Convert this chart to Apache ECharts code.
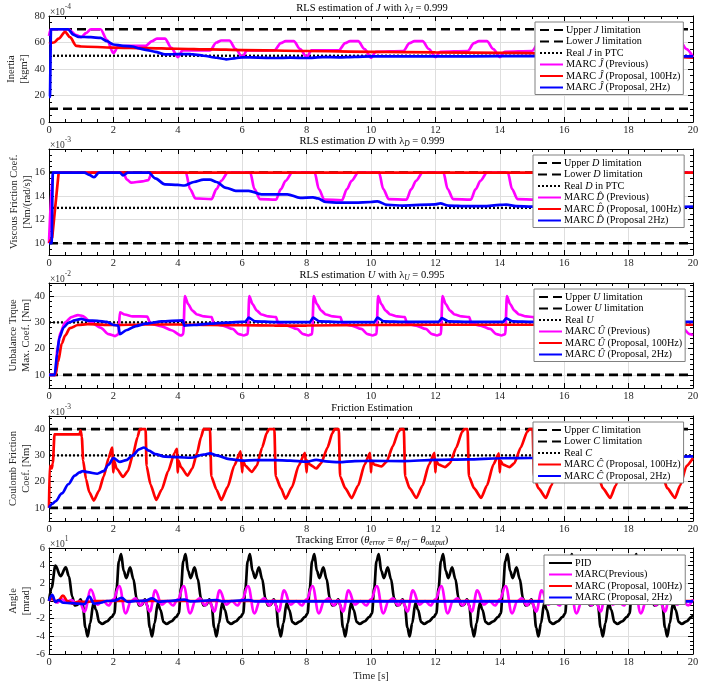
<!DOCTYPE html>
<html><head><meta charset="utf-8">
<script src="https://cdn.jsdelivr.net/npm/echarts@6/dist/echarts.min.js"></script>
<style>html,body{margin:0;padding:0;background:#fff}#c{width:721px;height:681px}</style>
</head><body><div id="c"></div>
<script>
// ---------------- DATA ----------------
const X_RANGE = [0, 20];

// Panel 1: Inertia (x1e-4)
const J_LIMITS = { upper: 70, lower: 10, real: 50 };
const J_PREV = [[0,65],[0.05,70],[0.6,70],[0.85,65.5],[1.0,64],[1.15,67],[1.3,70],[1.6,70],[1.8,62],[2.0,52],[2.15,57],[2.5,57.5],[3.0,57.5],[3.2,61],[3.35,63],[3.6,63],[3.8,56],[4.0,49],[4.15,54],[5.0,54],[5.2,60],[5.35,61.5],[5.6,61.5],[5.8,55],[6.0,49],[6.15,54],[7.0,54],[7.2,59.5],[7.35,61],[7.6,61],[7.8,55],[8.0,49],[8.15,54],[9.0,54],[9.2,59.5],[9.35,61],[9.6,61],[9.8,55],[10.0,48.5],[10.15,53],[11.0,53.5],[11.2,59.5],[11.35,61],[11.6,61],[11.8,55],[12.0,49],[12.15,53],[13.0,53.5],[13.2,59.5],[13.35,61],[13.6,61],[13.8,55],[14.0,49],[14.15,53],[15.0,53.5],[15.2,59.5],[15.35,61],[15.6,61],[15.8,55],[16.0,49],[16.15,53],[17.0,53.5],[17.2,59.5],[17.35,61],[17.6,61],[17.8,55],[18.0,49],[18.15,53],[19.0,53.5],[19.2,59.5],[19.35,61],[19.6,61],[19.8,55],[20.0,49]];
const J_100 = [[0,59],[0.15,60],[0.3,63],[0.5,68],[0.65,64],[0.85,57.5],[1.0,57],[2,56.2],[3,55.8],[4,55.3],[5,54.8],[6,54.3],[8,53.6],[10,53],[12,52.5],[14,52.2],[15,52],[16,51],[18,50],[20,48.5]];
const J_2 = [[0,19],[0.03,19],[0.06,70],[0.6,70],[0.75,66],[0.9,64.3],[1.3,64],[1.6,63.5],[1.8,61],[2.0,58.5],[2.3,57.5],[2.6,57],[2.8,55.5],[3.0,54.5],[3.3,53],[3.6,51],[4.0,51.3],[4.4,51.2],[4.8,50],[5.2,48.5],[5.5,47.3],[5.8,48.2],[6.0,48.8],[6.5,48.6],[7,48.3],[7.5,48.6],[8,48.3],[8.5,49],[9,48.8],[9.5,49.2],[10,49.5],[12,49.5],[14,49.7],[16,49.7],[18,49.6],[20,49.6]];

// Panel 2: Viscous friction (x1e-3)
const D_LIMITS = { upper: 16, lower: 10, real: 13 };
const D_PREV = [[0,10],[0.12,16],[2.3,16],[2.42,15.4],[2.55,15.15],[2.9,15.25],[3.08,15.35],[3.2,16],[4.25,16],[4.38,14.6],[4.55,13.8],[5.05,13.75],[5.2,14.6],[5.35,15.3],[5.55,16],[6.25,16],[6.38,14.6],[6.55,13.75],[7.05,13.7],[7.2,14.6],[7.35,15.3],[7.55,16],[8.25,16],[8.38,14.6],[8.55,13.7],[9.1,13.65],[9.25,14.6],[9.4,15.3],[9.6,16],[10.25,16],[10.38,14.6],[10.55,13.75],[11.1,13.7],[11.25,14.6],[11.4,15.3],[11.6,16],[12.25,16],[12.38,14.6],[12.55,13.75],[13.1,13.7],[13.25,14.6],[13.4,15.3],[13.6,16],[14.25,16],[14.38,14.6],[14.55,13.75],[15.1,13.7],[15.25,14.6],[15.4,15.3],[15.6,16],[16.25,16],[16.38,14.6],[16.55,13.75],[17.1,13.7],[17.25,14.6],[17.4,15.3],[17.6,16],[18.25,16],[18.38,14.6],[18.55,13.75],[19.1,13.7],[19.25,14.6],[19.4,15.3],[19.6,16],[20,16]];
const D_100 = [[0,10],[0.1,10.5],[0.3,16],[20,16]];
const D_2 = [[0,10],[0.08,10],[0.12,16],[1.1,16],[1.25,15.8],[1.4,15.6],[1.55,16],[2.2,16],[2.3,15.75],[2.45,16],[3.1,16],[3.3,15.5],[3.6,15],[4.0,14.95],[4.2,14.9],[4.5,15.2],[4.8,15.4],[5.0,15.4],[5.2,15.2],[5.5,14.7],[5.8,14.45],[6.2,14.45],[6.6,14.15],[7.0,14.15],[7.4,14.15],[7.8,13.85],[8.2,13.9],[8.35,13.8],[8.6,13.5],[9.0,13.45],[9.5,13.45],[10.0,13.5],[10.2,13.55],[10.5,13.25],[11.0,13.2],[12.0,13.3],[12.15,13.38],[12.4,13.2],[13.0,13.15],[13.5,13.15],[14.0,13.25],[14.2,13.28],[14.5,13.15],[15.0,13.1],[16,13.1],[17,13.1],[18,13.05],[19,13.05],[20,13.1]];

// Panel 3: Unbalance torque (x1e-2)
const U_LIMITS = { upper: 50, lower: 10, real: 30 };
const U_PREV = [[0,10],[0.2,10],[0.26,20],[0.35,26],[0.5,30],[0.7,32],[0.9,32.8],[1.05,32.4],[1.3,30],[1.6,28],[1.85,25.5],[2.05,24.8],[2.16,25.5],[2.2,33.8],[2.35,33],[2.6,32.3],[3.05,32.2],[3.15,29.5],[3.5,28.5],[3.8,27],[4.1,25],[4.17,25.5],
[4.22,40],[4.32,37],[4.45,34.5],[4.6,33],[4.82,32.3],[5.05,32],[5.12,29.5],[5.4,28.8],[5.7,27.5],[5.9,25.5],[6.05,25],[6.17,25.5],
[6.22,40],[6.32,37],[6.45,34.5],[6.6,33],[6.82,32.3],[7.05,32],[7.12,29.5],[7.4,28.8],[7.7,27.5],[7.9,25.5],[8.05,25],[8.17,25.5],
[8.22,40],[8.32,37],[8.45,34.5],[8.6,33],[8.82,32.3],[9.05,32],[9.12,29.5],[9.4,28.8],[9.7,27.5],[9.9,25.5],[10.05,25],[10.17,25.5],
[10.22,40],[10.32,37],[10.45,34.5],[10.6,33],[10.82,32.3],[11.05,32],[11.12,29.5],[11.4,28.8],[11.7,27.5],[11.9,25.5],[12.05,25],[12.17,25.5],
[12.22,40],[12.32,37],[12.45,34.5],[12.6,33],[12.82,32.3],[13.05,32],[13.12,29.5],[13.4,28.8],[13.7,27.5],[13.9,25.5],[14.05,25],[14.17,25.5],
[14.22,40],[14.32,37],[14.45,34.5],[14.6,33],[14.82,32.3],[15.05,32],[15.12,29.5],[15.4,28.8],[15.7,27.5],[15.9,25.5],[16.05,25],[16.17,25.5],
[16.22,40],[16.32,37],[16.45,34.5],[16.6,33],[16.82,32.3],[17.05,32],[17.12,29.5],[17.4,28.8],[17.7,27.5],[17.9,25.5],[18.05,25],[18.17,25.5],
[18.22,40],[18.32,37],[18.45,34.5],[18.6,33],[18.82,32.3],[19.05,32],[19.12,29.5],[19.4,28.8],[19.7,27.5],[19.9,25.5],[20,25.2]];
const U_100 = [[0,10],[0.2,10],[0.28,15],[0.4,22],[0.5,25],[0.65,27.8],[0.9,29],[1.2,29.3],[2,29],[3,29.2],[4,29.2],[5,29],[6,28.9],[7,28.8],[8,28.8],[10,29],[12,29.1],[14,29.1],[16,29.1],[18,29.1],[20,29.1]];
const U_2 = [[0,10],[0.18,10],[0.25,18],[0.32,24],[0.45,28],[0.6,29.8],[0.8,30.8],[1.0,31.3],[1.2,30.7],[1.5,30.6],[1.8,30.2],[2.0,29],[2.15,28.8],[2.2,25.5],[2.4,27],[2.7,28.6],[3.0,29.5],[3.5,30.4],[4.15,30.8],[4.2,28.8],[4.5,29],[5.0,29.5],[5.5,29.9],[6.1,30.3],[6.2,31.8],[6.4,30.4],[7.0,30.1],[8.1,30.1],[8.2,31.8],[8.4,30.4],[9,30.1],[10.1,30.1],[10.2,31.8],[10.4,30.4],[11,30.2],[12.1,30.2],[12.2,31.6],[12.4,30.4],[13,30.2],[14.1,30.2],[14.2,31.5],[14.4,30.4],[15,30.2],[16.1,30.2],[16.2,31.5],[16.4,30.4],[17,30.2],[18.1,30.2],[18.2,31.5],[18.4,30.4],[19,30.2],[20,30.2]];

// Panel 4: Coulomb friction (x1e-3)
const C_LIMITS = { upper: 40, lower: 10, real: 30 };
const C_100 = [[0,10],[0.02,26],[0.08,25],[0.12,27],[0.17,38],[0.95,38],[0.98,39.5],[1.02,37],[1.06,28],[1.15,21],[1.25,16],[1.39,12.8],[1.55,16.5],[1.7,22],[1.85,29],[1.96,33],
[2.0,23.5],[2.02,28],[2.1,25],[2.3,21.8],[2.45,24],[2.6,30],[2.75,37],[2.82,40],[3.0,40],[3.03,26],[3.15,19],[3.33,13],[3.5,17],[3.7,24],[3.9,31],[3.97,32.5],
[4.0,23.5],[4.02,28],[4.1,25.5],[4.3,22.3],[4.45,25],[4.6,31],[4.72,37],[4.8,40],[5.0,40],[5.04,22],[5.2,17],[5.35,13],[5.55,18],[5.75,26],[5.95,31.5],
[6.0,23.5],[6.02,28],[6.1,26],[6.3,23.7],[6.45,26],[6.62,33],[6.76,38.5],[6.83,40],[7.0,40],[7.04,22],[7.2,17.5],[7.35,13.5],[7.55,18],[7.75,26],[7.95,31],
[8.0,23.5],[8.02,28],[8.1,26.5],[8.3,25],[8.45,27],[8.65,33],[8.8,38.5],[8.87,40],[9.0,40],[9.04,22],[9.2,17.5],[9.4,13.7],[9.6,18.5],[9.8,26.5],[9.97,31],
[10.0,23.5],[10.02,28],[10.1,26.5],[10.33,25.8],[10.48,27.5],[10.68,33.5],[10.85,39],[10.92,40],[11.02,40],[11.06,22],[11.2,17.5],[11.41,13.8],[11.6,18.5],[11.8,26.5],[11.97,31],
[12.0,23.5],[12.02,28],[12.1,26.5],[12.3,25.5],[12.45,27],[12.65,33],[12.83,39],[12.9,40],[13.0,40],[13.04,22],[13.2,17.5],[13.42,13.8],[13.6,18.5],[13.8,26.5],[13.97,30.8],
[14.0,23.5],[14.02,28],[14.1,26.5],[14.3,25.5],[14.45,27],[14.65,33],[14.85,39],[14.92,40],[15.02,40],[15.06,22],[15.2,17.5],[15.43,13.8],[15.6,18.5],[15.8,26.5],[15.97,31],
[16.0,23.5],[16.02,28],[16.1,26.5],[16.3,25.5],[16.45,27],[16.65,33],[16.85,39],[16.92,40],[17.02,40],[17.06,22],[17.2,17.5],[17.43,13.8],[17.6,18.5],[17.8,26.5],[17.97,31],
[18.0,23.5],[18.02,28],[18.1,26.5],[18.3,25.5],[18.45,27],[18.65,33],[18.85,39],[18.92,40],[19.02,40],[19.06,22],[19.2,17.5],[19.44,13.8],[19.6,18.5],[19.8,26],[20,29]];
const C_2 = [[0,10],[0.1,11.5],[0.2,12.5],[0.4,15.5],[0.6,19],[0.8,22.3],[0.95,23.5],[1.05,24],[1.2,23.6],[1.5,23],[1.7,24],[1.85,26.5],[2.0,29],[2.2,27.5],[2.4,28.2],[2.6,30],[2.8,32.3],[2.95,33],[3.1,31.8],[3.3,30.5],[3.6,29.5],[4.0,29.3],[4.4,29.1],[4.8,30.3],[5.0,30.8],[5.2,30],[5.6,28.6],[6.0,28],[6.4,28.2],[7.0,28.2],[7.5,28],[8.0,27.6],[8.3,28.3],[8.6,27.7],[9.0,27.4],[9.5,27.8],[10,27.9],[11,27.8],[12,28.3],[13,28.5],[14,28.9],[15,29],[16,29.1],[17,29.2],[18,29.3],[19,29.4],[20,29.6]];

// Panel 5: Tracking error (x1e1 mrad)
const PID = [[0,0],[0.08,1.5],[0.2,4],[0.36,2.8],[0.52,3.8],[0.62,2.8],[0.72,0.5],[0.8,-0.5],[0.88,-0.45],[0.98,0.2],[1.05,-0.5],[1.13,-3],[1.2,-4],[1.28,-2.5],[1.38,-0.2],[1.46,-1],[1.56,-2.4],[1.65,-2.6],[1.8,-2.3],[1.95,-1.8],[2.03,-1.4],
[2.1,1.5],[2.17,4.5],[2.24,5.3],[2.32,3.4],[2.4,2.6],[2.52,3.8],[2.62,2.5],[2.72,0.3],[2.8,-0.5],[2.88,-0.45],[2.98,0.2],[3.05,-0.5],[3.13,-3],[3.2,-4],[3.28,-2.5],[3.38,-0.2],[3.46,-1],[3.56,-2.4],[3.65,-2.6],[3.8,-2.3],[3.95,-1.8],[4.03,-1.4],
[4.1,1.5],[4.17,4.5],[4.24,5.3],[4.32,3.4],[4.4,2.6],[4.52,3.8],[4.62,2.5],[4.72,0.3],[4.8,-0.5],[4.88,-0.45],[4.98,0.2],[5.05,-0.5],[5.13,-3],[5.2,-4],[5.28,-2.5],[5.38,-0.2],[5.46,-1],[5.56,-2.4],[5.65,-2.6],[5.8,-2.3],[5.95,-1.8],[6.03,-1.4],
[6.1,1.5],[6.17,4.5],[6.24,5.3],[6.32,3.4],[6.4,2.6],[6.52,3.8],[6.62,2.5],[6.72,0.3],[6.8,-0.5],[6.88,-0.45],[6.98,0.2],[7.05,-0.5],[7.13,-3],[7.2,-4],[7.28,-2.5],[7.38,-0.2],[7.46,-1],[7.56,-2.4],[7.65,-2.6],[7.8,-2.3],[7.95,-1.8],[8.03,-1.4],
[8.1,1.5],[8.17,4.5],[8.24,5.3],[8.32,3.4],[8.4,2.6],[8.52,3.8],[8.62,2.5],[8.72,0.3],[8.8,-0.5],[8.88,-0.45],[8.98,0.2],[9.05,-0.5],[9.13,-3],[9.2,-4],[9.28,-2.5],[9.38,-0.2],[9.46,-1],[9.56,-2.4],[9.65,-2.6],[9.8,-2.3],[9.95,-1.8],[10.03,-1.4],
[10.1,1.5],[10.17,4.5],[10.24,5.3],[10.32,3.4],[10.4,2.6],[10.52,3.8],[10.62,2.5],[10.72,0.3],[10.8,-0.5],[10.88,-0.45],[10.98,0.2],[11.05,-0.5],[11.13,-3],[11.2,-4],[11.28,-2.5],[11.38,-0.2],[11.46,-1],[11.56,-2.4],[11.65,-2.6],[11.8,-2.3],[11.95,-1.8],[12.03,-1.4],
[12.1,1.5],[12.17,4.5],[12.24,5.3],[12.32,3.4],[12.4,2.6],[12.52,3.8],[12.62,2.5],[12.72,0.3],[12.8,-0.5],[12.88,-0.45],[12.98,0.2],[13.05,-0.5],[13.13,-3],[13.2,-4],[13.28,-2.5],[13.38,-0.2],[13.46,-1],[13.56,-2.4],[13.65,-2.6],[13.8,-2.3],[13.95,-1.8],[14.03,-1.4],
[14.1,1.5],[14.17,4.5],[14.24,5.3],[14.32,3.4],[14.4,2.6],[14.52,3.8],[14.62,2.5],[14.72,0.3],[14.8,-0.5],[14.88,-0.45],[14.98,0.2],[15.05,-0.5],[15.13,-3],[15.2,-4],[15.28,-2.5],[15.38,-0.2],[15.46,-1],[15.56,-2.4],[15.65,-2.6],[15.8,-2.3],[15.95,-1.8],[16.03,-1.4],
[16.1,1.5],[16.17,4.5],[16.24,5.3],[16.32,3.4],[16.4,2.6],[16.52,3.8],[16.62,2.5],[16.72,0.3],[16.8,-0.5],[16.88,-0.45],[16.98,0.2],[17.05,-0.5],[17.13,-3],[17.2,-4],[17.28,-2.5],[17.38,-0.2],[17.46,-1],[17.56,-2.4],[17.65,-2.6],[17.8,-2.3],[17.95,-1.8],[18.03,-1.4],
[18.1,1.5],[18.17,4.5],[18.24,5.3],[18.32,3.4],[18.4,2.6],[18.52,3.8],[18.62,2.5],[18.72,0.3],[18.8,-0.5],[18.88,-0.45],[18.98,0.2],[19.05,-0.5],[19.13,-3],[19.2,-4],[19.28,-2.5],[19.38,-0.2],[19.46,-1],[19.56,-2.4],[19.65,-2.6],[19.8,-2.3],[19.95,-1.8],[20,-1.6]];
const MARC_PREV = [[0,0],[0.1,0.3],[0.25,-0.2],[0.4,0.2],[0.55,-0.1],[0.7,0.1],[0.85,-0.3],[0.95,0],[1.1,-1.2],[1.3,1.3],[1.5,-0.4],[1.68,0],[1.85,-0.5],
[2.0,0.2],[2.18,1.7],[2.38,-1.4],[2.55,0],[2.68,0.3],[2.85,-0.5],[2.97,0.1],[3.13,-1.2],[3.3,1.2],[3.5,-0.4],[3.68,0],[3.85,-0.5],
[4.0,0.2],[4.18,1.7],[4.38,-1.4],[4.55,0],[4.68,0.3],[4.85,-0.5],[4.97,0.1],[5.13,-1.2],[5.3,1.2],[5.5,-0.4],[5.68,0],[5.85,-0.5],
[6.0,0.2],[6.18,1.7],[6.38,-1.4],[6.55,0],[6.68,0.3],[6.85,-0.5],[6.97,0.1],[7.13,-1.2],[7.3,1.2],[7.5,-0.4],[7.68,0],[7.85,-0.5],
[8.0,0.2],[8.18,1.7],[8.38,-1.4],[8.55,0],[8.68,0.3],[8.85,-0.5],[8.97,0.1],[9.13,-1.2],[9.3,1.2],[9.5,-0.4],[9.68,0],[9.85,-0.5],
[10.0,0.2],[10.18,1.7],[10.38,-1.4],[10.55,0],[10.68,0.3],[10.85,-0.5],[10.97,0.1],[11.13,-1.2],[11.3,1.2],[11.5,-0.4],[11.68,0],[11.85,-0.5],
[12.0,0.2],[12.18,1.7],[12.38,-1.4],[12.55,0],[12.68,0.3],[12.85,-0.5],[12.97,0.1],[13.13,-1.2],[13.3,1.2],[13.5,-0.4],[13.68,0],[13.85,-0.5],
[14.0,0.2],[14.18,1.7],[14.38,-1.4],[14.55,0],[14.68,0.3],[14.85,-0.5],[14.97,0.1],[15.13,-1.2],[15.3,1.2],[15.5,-0.4],[15.68,0],[15.85,-0.5],
[16.0,0.2],[16.18,1.7],[16.38,-1.4],[16.55,0],[16.68,0.3],[16.85,-0.5],[16.97,0.1],[17.13,-1.2],[17.3,1.2],[17.5,-0.4],[17.68,0],[17.85,-0.5],
[18.0,0.2],[18.18,1.7],[18.38,-1.4],[18.55,0],[18.68,0.3],[18.85,-0.5],[18.97,0.1],[19.13,-1.2],[19.3,1.2],[19.5,-0.4],[19.68,0],[19.85,-0.5],[20,0.2]];
const MARC_100 = [[0,0],[0.1,0.3],[0.2,-0.1],[0.3,0.1],[0.43,0.6],[0.58,0],[0.75,-0.3],[0.9,-0.1],[1.2,-0.1],[1.4,0],[20,0]];
const MARC_2 = [[0,0],[0.1,0.7],[0.2,-0.1],[0.3,0.1],[0.45,-0.2],[0.7,-0.25],[0.9,-0.3],[1.1,-0.35],[1.25,0.5],[1.4,-0.3],[1.6,-0.2],[1.8,0],[2.05,0.05],[2.25,0.35],[2.45,-0.1],[2.7,0],[3.0,0.05],[3.2,0.3],[3.4,-0.1],[3.7,0],[4.2,0.15],[4.4,-0.05],[5.2,0.1],[5.4,-0.05],[6.2,0.1],[6.4,-0.05],[8,-0.05],[10,-0.05],[20,-0.05]];

// Text
const TITLES = [
  'RLS estimation of {i|J} with {n|λ}{sub|J} = 0.999',
  'RLS estimation {i|D} with {n|λ}{sub|D} = 0.999',
  'RLS estimation {i|U} with {n|λ}{sub|U} = 0.995',
  'Friction Estimation',
  'Tracking Error ({i|θ}{sub|error} = {i|θ}{sub|ref} − {i|θ}{sub|output})'
];
const EXPONENTS = ['-4', '-3', '-2', '-3', '1'];
const Y_NAMES = ['Inertia\n[kgm²]', 'Viscous Friction Coef.\n[Nm/(rad/s)]', 'Unbalance Trque\nMax. Coef. [Nm]', 'Coulomb Friction\nCoef. [Nm]', 'Angle\n[mrad]'];
const X_NAME = 'Time [s]';

// ---------------- LAYOUT / STYLE ----------------
const FONT = 'Liberation Serif';
const LEFT = 49, RIGHT = 28;
const GRIDS = [{top:16,height:106},{top:149,height:106},{top:283,height:105},{top:416,height:105},{top:548,height:106}];
const YAX = [
  {min:0,max:80,interval:20,minor:4,gap:18},
  {min:9,max:18,splitNumber:5,minor:4,gap:15,hideEnds:true},
  {min:5,max:45,splitNumber:4,minor:5,gap:16,hideEnds:true},
  {min:5,max:45,splitNumber:4,minor:5,gap:16,hideEnds:true},
  {min:-6,max:6,interval:2,minor:4,gap:16}
];
const LEGEND_POS = [{left:535,top:22},{left:533,top:155},{left:534,top:289},{left:533,top:422},{left:544,top:555}];
const ST = {
  lim: {color:'#000', width:2.6, type:[9,5]},
  real:{color:'#000', width:2.3, type:[2,2]},
  prev:{color:'#ff00ff', width:2.7},
  p100:{color:'#ff0000', width:2.7},
  p2:{color:'#0000ff', width:2.7},
  pid:{color:'#000', width:2.7}
};
const hline = v => [[X_RANGE[0], v], [X_RANGE[1], v]];

const PANEL_SERIES = [
  [['Upper J limitation', hline(J_LIMITS.upper), ST.lim, 0],
   ['Lower J limitation', hline(J_LIMITS.lower), ST.lim, 0],
   ['Real J in PTC', hline(J_LIMITS.real), ST.real, 0],
   ['MARC Ĵ (Previous)', J_PREV, ST.prev, 0.3],
   ['MARC Ĵ (Proposal, 100Hz)', J_100, ST.p100, 0.3],
   ['MARC Ĵ (Proposal, 2Hz)', J_2, ST.p2, 0.2]],
  [['Upper D limitation', hline(D_LIMITS.upper), ST.lim, 0],
   ['Lower D limitation', hline(D_LIMITS.lower), ST.lim, 0],
   ['Real D in PTC', hline(D_LIMITS.real), ST.real, 0],
   ['MARC D̂ (Previous)', D_PREV, ST.prev, 0.3],
   ['MARC D̂ (Proposal, 100Hz)', D_100, ST.p100, 0],
   ['MARC D̂ (Proposal 2Hz)', D_2, ST.p2, 0.3]],
  [['Upper U limitation', hline(U_LIMITS.upper), ST.lim, 0],
   ['Lower U limitation', hline(U_LIMITS.lower), ST.lim, 0],
   ['Real U', hline(U_LIMITS.real), ST.real, 0],
   ['MARC Û (Previous)', U_PREV, ST.prev, 0.25],
   ['MARC Û (Proposal, 100Hz)', U_100, ST.p100, 0.3],
   ['MARC Û (Proposal, 2Hz)', U_2, ST.p2, 0.2]],
  [['Upper C limitation', hline(C_LIMITS.upper), ST.lim, 0],
   ['Lower C limitation', hline(C_LIMITS.lower), ST.lim, 0],
   ['Real C', hline(C_LIMITS.real), ST.real, 0],
   ['MARC Ĉ (Proposal, 100Hz)', C_100, ST.p100, 0.2],
   ['MARC Ĉ (Proposal, 2Hz)', C_2, ST.p2, 0.3]],
  [['PID', PID, ST.pid, 0.35],
   ['MARC(Previous)', MARC_PREV, ST.prev, 0.4],
   ['MARC (Proposal, 100Hz)', MARC_100, ST.p100, 0.4],
   ['MARC (Proposal, 2Hz)', MARC_2, ST.p2, 0.4]]
];

// ---------------- BUILD ----------------
const richBase = {
  i: {fontStyle:'italic', fontFamily:FONT, fontSize:10.5, color:'#000', lineHeight:14, verticalAlign:'middle'},
  n: {fontFamily:FONT, fontSize:10.5, color:'#000', lineHeight:14},
  sub:{fontStyle:'italic', fontFamily:FONT, fontSize:7.5, color:'#000', lineHeight:8, verticalAlign:'bottom'},
  b: {fontFamily:FONT, fontSize:9.5, color:'#333', lineHeight:14, verticalAlign:'bottom'},
  sup:{fontFamily:FONT, fontSize:7.5, color:'#333', lineHeight:8, verticalAlign:'top'}
};
const grid = [], xAxis = [], yAxis = [], series = [], legend = [], graphic = [];
GRIDS.forEach((g, p) => {
  grid.push({left:LEFT, right:RIGHT, top:g.top, height:g.height, containLabel:false, outerBoundsMode:'none'});
  const tickStyle = {color:'#000', width:1};
  xAxis.push({
    type:'value', gridIndex:p, min:X_RANGE[0], max:X_RANGE[1], interval:2, position:'bottom',
    axisLine:{show:true, onZero:false, lineStyle:tickStyle},
    axisTick:{show:true, inside:true, length:5, lineStyle:tickStyle},
    minorTick:{show:true, splitNumber:4, length:3, lineStyle:tickStyle},
    splitLine:{show:true, lineStyle:{color:'#dedede', width:1}},
    axisLabel:{fontFamily:FONT, fontSize:10.5, color:'#262626', margin:3},
    name: p === 4 ? X_NAME : '', nameLocation:'middle', nameGap:17, nameMoveOverlap:false,
    nameTextStyle:{fontFamily:FONT, fontSize:10.5, color:'#262626'}
  });
  xAxis.push({
    type:'value', gridIndex:p, min:X_RANGE[0], max:X_RANGE[1], interval:2, position:'top',
    axisLine:{show:true, onZero:false, lineStyle:tickStyle},
    axisTick:{show:true, inside:true, length:5, lineStyle:tickStyle},
    minorTick:{show:true, splitNumber:4, length:3, lineStyle:tickStyle},
    splitLine:{show:false}, axisLabel:{show:false}
  });
  const ya = YAX[p];
  const yBase = {type:'value', gridIndex:p, min:ya.min, max:ya.max};
  if (ya.interval) yBase.interval = ya.interval; else yBase.splitNumber = ya.splitNumber;
  yAxis.push(Object.assign({}, yBase, {
    position:'left',
    axisLine:{show:true, onZero:false, lineStyle:tickStyle},
    axisTick:{show:true, inside:true, length:5, lineStyle:tickStyle},
    minorTick:{show:true, splitNumber:ya.minor, length:3, lineStyle:tickStyle},
    splitLine:{show:true, lineStyle:{color:'#dedede', width:1}},
    axisLabel:{fontFamily:FONT, fontSize:10.5, color:'#262626', margin:4,
      showMinLabel: !ya.hideEnds, showMaxLabel: !ya.hideEnds},
    name:Y_NAMES[p], nameLocation:'middle', nameGap:ya.gap, nameMoveOverlap:false,
    nameTextStyle:{fontFamily:FONT, fontSize:10.5, lineHeight:13, color:'#262626'}
  }));
  yAxis.push(Object.assign({}, yBase, {
    position:'right',
    axisLine:{show:true, onZero:false, lineStyle:tickStyle},
    axisTick:{show:true, inside:true, length:5, lineStyle:tickStyle},
    minorTick:{show:true, splitNumber:ya.minor, length:3, lineStyle:tickStyle},
    splitLine:{show:false}, axisLabel:{show:false}
  }));
  const names = [];
  PANEL_SERIES[p].forEach(([name, data, st, sm]) => {
    names.push(name);
    series.push({
      type:'line', name, data, xAxisIndex:2*p, yAxisIndex:2*p,
      showSymbol:false, symbol:'none', symbolSize:0, smooth:sm || false, smoothMonotone:'x',
      lineStyle:{color:st.color, width:st.width, type:st.type || 'solid'},
      itemStyle:{color:st.color}, clip:true, z:2
    });
  });
  legend.push({
    data:names, orient:'vertical', left:LEGEND_POS[p].left, top:LEGEND_POS[p].top,
    backgroundColor:'#fff', borderColor:'#808080', borderWidth:1, padding:[3,3,2,4],
    itemGap:1.5, itemWidth:23, itemHeight:11, selectedMode:false, z:10,
    itemStyle:{opacity:0},
    textStyle:{fontFamily:FONT, fontSize:10.2, color:'#000', padding:[0,0,0,-2], rich:{
      i:{fontFamily:FONT, fontSize:10.2, fontStyle:'italic', color:'#000'}}},
    formatter: n => n.replace(/ (Ĵ|D̂|Û|Ĉ|J|D|U|C)( |$)/, ' {i|$1}$2')
  });
  graphic.push({type:'text', x:372, y:g.top - 8, z:20, style:{
    text:TITLES[p], rich:richBase, font:'10.5px "' + FONT + '"', fill:'#000',
    align:'center', verticalAlign:'middle'}});
  graphic.push({type:'text', x:LEFT + 1, y:g.top - 6, z:20, style:{
    text:'{b|×10}{sup|' + EXPONENTS[p] + '}', rich:richBase, font:'9.5px "' + FONT + '"', fill:'#333',
    align:'left', verticalAlign:'middle'}});
});

const chart = echarts.init(document.getElementById('c'), null, {renderer:'canvas', width:721, height:681});
chart.setOption({
  animation:false, backgroundColor:'#fff',
  textStyle:{fontFamily:FONT},
  grid, xAxis, yAxis, series, legend, graphic
});
</script>
</body></html>
